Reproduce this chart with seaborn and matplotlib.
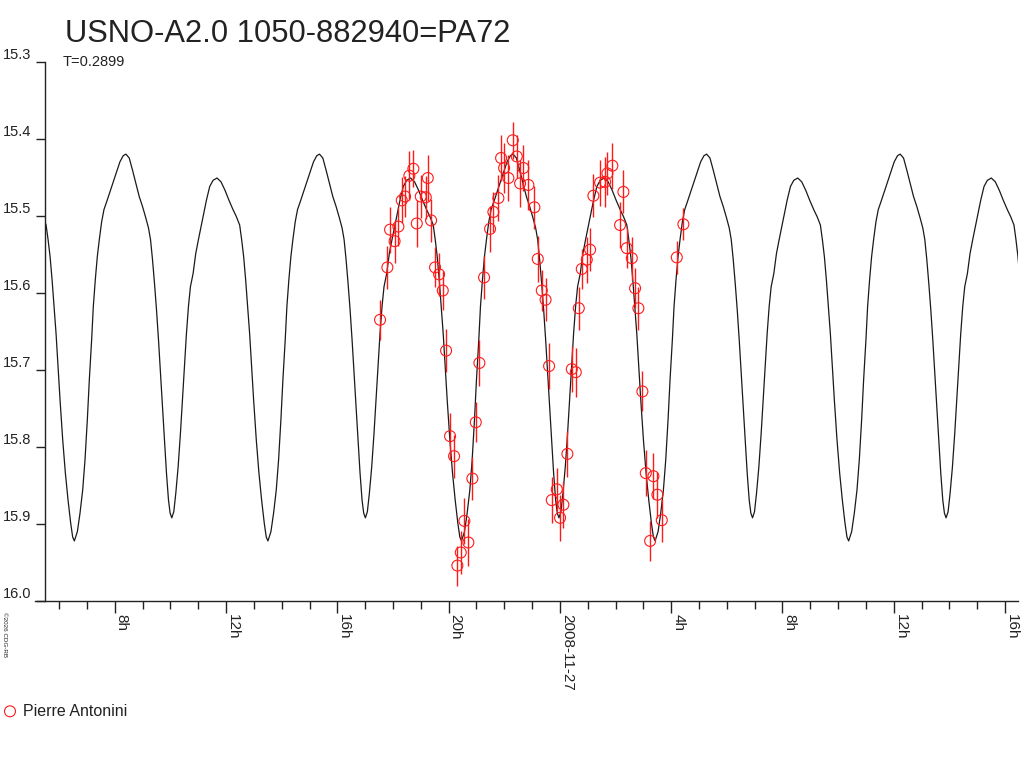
import numpy as np
import pandas as pd
import matplotlib
matplotlib.use("Agg")
import matplotlib.pyplot as plt
import seaborn as sns
from matplotlib.ticker import MultipleLocator, FuncFormatter

# star / fit parameters
star_name = "USNO-A2.0 1050-882940=PA72"
period_days = 0.2899
epoch_min_h = 6.548          # a primary minimum, hours since 2008-11-26 0h UT
observer = "Pierre Antonini"

# one cycle of the fitted light curve (phase 0 = primary minimum)
curve_phase = [0.0, 0.0155, 0.0292, 0.0430, 0.0550, 0.0670, 0.0773, 0.0893, 0.0979, 0.1082,
               0.1186, 0.1289, 0.1409, 0.1529, 0.1667, 0.1838, 0.2010, 0.2182, 0.2354, 0.2526,
               0.2663, 0.2835, 0.3007, 0.3179, 0.3351, 0.3522, 0.3694, 0.3832, 0.3935, 0.4038,
               0.4141, 0.4244, 0.4347, 0.4450, 0.4553, 0.4656, 0.4759, 0.4863, 0.4948, 0.5034,
               0.5137, 0.5241, 0.5361, 0.5481, 0.5584, 0.5687, 0.5790, 0.5893, 0.5997, 0.6134,
               0.6271, 0.6409, 0.6546, 0.6684, 0.6821, 0.6993, 0.7165, 0.7371, 0.7577, 0.7784,
               0.7990, 0.8196, 0.8368, 0.8540, 0.8643, 0.8746, 0.8849, 0.8952, 0.9055, 0.9158,
               0.9261, 0.9399, 0.9536, 0.9674, 0.9811, 0.9914, 1.0]
curve_mag = [15.922, 15.910, 15.886, 15.856, 15.817, 15.765, 15.713, 15.661, 15.618, 15.583,
             15.553, 15.531, 15.508, 15.492, 15.482, 15.469, 15.456, 15.443, 15.430, 15.422,
             15.420, 15.425, 15.441, 15.458, 15.475, 15.488, 15.503, 15.516, 15.531, 15.557,
             15.588, 15.622, 15.661, 15.705, 15.748, 15.791, 15.834, 15.869, 15.886, 15.892,
             15.884, 15.860, 15.826, 15.782, 15.739, 15.696, 15.653, 15.618, 15.592, 15.575,
             15.549, 15.531, 15.514, 15.497, 15.480, 15.462, 15.454, 15.451, 15.456, 15.467,
             15.480, 15.492, 15.501, 15.512, 15.531, 15.553, 15.583, 15.618, 15.653, 15.696,
             15.739, 15.791, 15.834, 15.869, 15.899, 15.917, 15.922]

# observations: hours since 2008-11-26 0h UT, magnitude, error
obs_time = [17.536, 17.799, 17.896, 18.058, 18.194, 18.316, 18.435, 18.589, 18.733, 18.855,
            18.999, 19.179, 19.251, 19.370, 19.513, 19.657, 19.790, 19.909, 20.052, 20.196,
            20.315, 20.437, 20.567, 20.710, 20.854, 20.976, 21.106, 21.275, 21.490, 21.609,
            21.789, 21.886, 21.994, 22.148, 22.306, 22.450, 22.569, 22.687, 22.867, 23.083,
            23.205, 23.349, 23.485, 23.611, 23.708, 23.888, 24.006, 24.125, 24.269, 24.427,
            24.571, 24.679, 24.786, 24.966, 25.085, 25.204, 25.444, 25.624, 25.707, 25.886,
            26.163, 26.282, 26.404, 26.584, 26.702, 26.821, 26.965, 27.087, 27.242, 27.360,
            27.504, 27.662, 28.201, 28.438]
obs_mag = [15.635, 15.567, 15.518, 15.533, 15.514, 15.480, 15.475, 15.448, 15.439, 15.510,
           15.475, 15.476, 15.451, 15.506, 15.567, 15.576, 15.597, 15.675, 15.786, 15.812,
           15.954, 15.937, 15.896, 15.924, 15.841, 15.768, 15.691, 15.580, 15.517, 15.495,
           15.477, 15.425, 15.438, 15.451, 15.402, 15.423, 15.458, 15.438, 15.460, 15.489,
           15.556, 15.597, 15.609, 15.695, 15.869, 15.855, 15.892, 15.875, 15.809, 15.699,
           15.703, 15.620, 15.569, 15.557, 15.544, 15.474, 15.457, 15.456, 15.445, 15.435,
           15.512, 15.469, 15.542, 15.555, 15.594, 15.620, 15.728, 15.834, 15.922, 15.838,
           15.862, 15.895, 15.554, 15.511]
obs_err = [0.026, 0.028, 0.030, 0.028, 0.025, 0.030, 0.026, 0.032, 0.024, 0.030,
           0.028, 0.028, 0.030, 0.028, 0.026, 0.028, 0.025, 0.028, 0.030, 0.028,
           0.026, 0.028, 0.030, 0.030, 0.028, 0.026, 0.030, 0.028, 0.030, 0.026,
           0.030, 0.030, 0.032, 0.030, 0.024, 0.028, 0.030, 0.030, 0.032, 0.028,
           0.030, 0.026, 0.028, 0.030, 0.030, 0.028, 0.030, 0.030, 0.030, 0.030,
           0.032, 0.028, 0.026, 0.030, 0.028, 0.028, 0.030, 0.032, 0.028, 0.030,
           0.030, 0.028, 0.026, 0.028, 0.026, 0.028, 0.026, 0.030, 0.026, 0.030,
           0.030, 0.028, 0.021, 0.021]

# tile the phased fit over the plotted interval
period_h = period_days * 24
rows = []
for k in range(-1, 6):
    for ph, m in zip(curve_phase[:-1], curve_mag[:-1]):
        rows.append((epoch_min_h + (k + ph) * period_h, m))
curve = pd.DataFrame(rows, columns=["t", "mag"])
obs = pd.DataFrame({"t": obs_time, "mag": obs_mag, "err": obs_err})

sns.set_style("white")
plt.rcParams["font.family"] = ["Liberation Sans", "DejaVu Sans"]
txt = "#222222"

fig = plt.figure(figsize=(10.24, 7.68), dpi=100)
ax = fig.add_axes([0.044, 0.2174, 0.950, 0.7023])

sns.lineplot(data=curve, x="t", y="mag", sort=False, estimator=None,
             color="#1a1a1a", lw=0.9, ax=ax)
ax.vlines(obs["t"], obs["mag"] - obs["err"], obs["mag"] + obs["err"],
          color="#ff1a1a", lw=1.0, zorder=3)
sns.scatterplot(data=obs, x="t", y="mag", marker="o", s=62, facecolor="none",
                edgecolor="#ff1a1a", linewidth=0.8, label=observer, ax=ax, zorder=4)

ax.set_xlim(5.495, 40.46)
ax.set_ylim(16.0, 15.3)
ax.set_xlabel("")
ax.set_ylabel("")

sns.despine(ax=ax)
for s in ["left", "bottom"]:
    ax.spines[s].set_color(txt)
    ax.spines[s].set_linewidth(1.0)
ax.spines["bottom"].set_bounds(5.13, 40.46)

ax.yaxis.set_major_locator(MultipleLocator(0.1))
ax.yaxis.set_major_formatter(FuncFormatter(lambda v, p: f"{v:.1f}"))
ax.tick_params(axis="y", which="major", length=6.5, width=1.0, color=txt,
               labelsize=10.5, labelcolor=txt, pad=3.5, left=True)
for lbl in ax.get_yticklabels():
    lbl.set_va("bottom")


def hour_label(v, pos):
    h = int(round(v)) % 24
    if h == 0:
        return "2008-11-27"
    return f"{h}h"


ax.xaxis.set_major_locator(MultipleLocator(4))
ax.xaxis.set_minor_locator(MultipleLocator(1))
ax.xaxis.set_major_formatter(FuncFormatter(hour_label))
ax.tick_params(axis="x", which="major", length=8.6, width=1.0, color=txt,
               labelsize=11, labelcolor=txt, pad=0.5, bottom=True)
ax.tick_params(axis="x", which="minor", length=5.8, width=1.0, color=txt, bottom=True)
for lbl in ax.get_xticklabels():
    lbl.set_rotation(270)
    lbl.set_ha("left")
    lbl.set_va("top")

fig.text(65 / 1024, 1 - 41.7 / 768, star_name, fontsize=22.2, color=txt, va="baseline")
fig.text(63 / 1024, 1 - 65.7 / 768, f"T={period_days}", fontsize=10.5, color=txt, va="baseline")
fig.text(2 / 1024, 1 - 612 / 768, "\u00a92026 CDG-RB", fontsize=4.5, color=txt,
         rotation=270, ha="left", va="top")

ax.legend(loc="center left", bbox_to_anchor=(2 / 1024, 1 - 711 / 768),
          bbox_transform=fig.transFigure, frameon=False, borderpad=0, borderaxespad=0,
          handlelength=1.0, handletextpad=0.3, fontsize=11.5, labelcolor=txt)

fig.savefig("out.png", dpi=100)
